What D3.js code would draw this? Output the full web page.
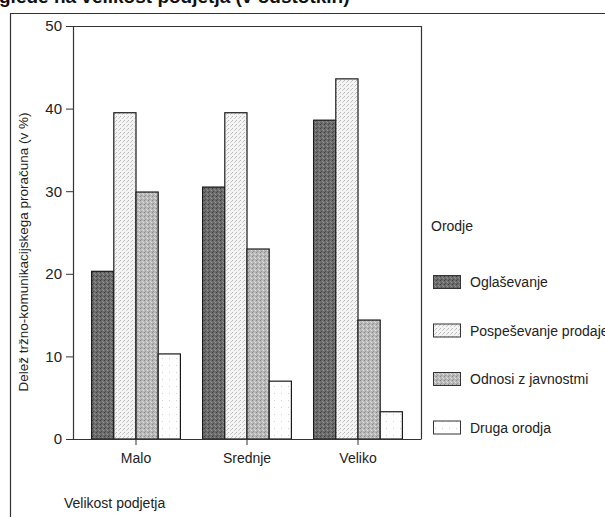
<!DOCTYPE html>
<html><head><meta charset="utf-8">
<script src="https://cdn.jsdelivr.net/npm/d3@7"></script>
<style>body{margin:0;background:#fff;}svg{display:block;font-family:"Liberation Sans",Arial,sans-serif;}</style>
</head><body>
<svg id="c" width="605" height="517"></svg>
<script>
const categories = ["Malo", "Srednje", "Veliko"];
const series = ["Oglaševanje", "Pospeševanje prodaje", "Odnosi z javnostmi", "Druga orodja"];
const oglasevanje = [20.3, 30.5, 38.6];
const pospesevanje = [39.5, 39.5, 43.6];
const odnosi = [29.9, 23.0, 14.4];
const druga = [10.3, 7.0, 3.3];
const yTicks = [0, 10, 20, 30, 40, 50];
const values = [oglasevanje, pospesevanje, odnosi, druga];

const svg = d3.select("#c");
const defs = svg.append("defs");
const pats = [
  {id:"p0", base:"#6c6c6c", dots:[["#404040",0,0],["#888",2,1],["#4c4c4c",1,3],["#959595",3,2]]},
  {id:"p1", base:"#f4f4f4", dots:[["#b8b8b8",0,0],["#d0d0d0",2,2],["#c4c4c4",3,1]]},
  {id:"p2", base:"#b8b8b8", dots:[["#8a8a8a",0,0],["#d8d8d8",2,1],["#999",1,3],["#e0e0e0",3,2]]},
  {id:"p3", base:"#ffffff", dots:[["#d0d0d0",1,1]]}
];
pats.forEach((p,i)=>{
  const sz = i===3 ? 7 : 4;
  const pt = defs.append("pattern").attr("id",p.id).attr("patternUnits","userSpaceOnUse").attr("width",sz).attr("height",sz);
  pt.append("rect").attr("width",sz).attr("height",sz).attr("fill",p.base);
  p.dots.forEach(d=>pt.append("rect").attr("x",d[1]).attr("y",d[2]).attr("width",1).attr("height",1).attr("fill",d[0]));
});

// title (cut at top, as in the scanned reference)
svg.append("text").attr("x",-1).attr("y",3).attr("font-size",19).attr("font-weight","bold").attr("fill","#111")
  .text("glede na velikost podjetja (v odstotkih)");

// outer frame
svg.append("path").attr("d","M10.5,517 V13.5 H605").attr("fill","none").attr("stroke","#333").attr("stroke-width",1.2);

const L=73, R=421, T=26, B=439;
const y = d3.scaleLinear().domain([0,50]).range([B,T]);
const x0 = d3.scaleBand().domain(categories).range([L,R]).paddingInner(0.2).paddingOuter(0.1676);
const x1 = d3.scaleBand().domain(series).range([0,x0.bandwidth()]);

// plot frame (top and right)
svg.append("path").attr("d",`M${L},${T+0.5} H${R+0.5} V${B}`).attr("fill","none").attr("stroke","#333").attr("stroke-width",1.2);

// bars
categories.forEach((c,ci)=>{
  series.forEach((s,si)=>{
    const v = values[si][ci];
    svg.append("rect")
      .attr("x",x0(c)+x1(s)).attr("y",y(v))
      .attr("width",x1.bandwidth()).attr("height",y(0)-y(v))
      .attr("fill",`url(#p${si})`).attr("stroke","#1a1a1a").attr("stroke-width",1.2);
  });
});

// y axis
const ya = svg.append("g").attr("transform",`translate(${L},0)`)
  .call(d3.axisLeft(y).tickValues(yTicks).tickSize(7).tickPadding(4).tickFormat(d3.format("d")));
ya.select(".domain").attr("stroke","#333").attr("stroke-width",1.2);
ya.selectAll(".tick line").attr("stroke","#333");
ya.selectAll("text").attr("font-size",15).attr("fill","#222").attr("font-family","Liberation Sans, Arial, sans-serif");

// x axis
const xa = svg.append("g").attr("transform",`translate(0,${B})`)
  .call(d3.axisBottom(x0).tickSize(6).tickPadding(8).tickSizeOuter(0));
xa.select(".domain").attr("stroke","#333").attr("stroke-width",1.2);
xa.selectAll(".tick line").attr("stroke","#333");
xa.selectAll("text").attr("font-size",14).attr("fill","#222").attr("font-family","Liberation Sans, Arial, sans-serif");

// axis titles
svg.append("text").attr("transform","translate(28,252) rotate(-90)").attr("text-anchor","middle")
  .attr("font-size",13.5).attr("fill","#222").text("Delež tržno-komunikacijskega proračuna (v %)");
svg.append("text").attr("x",64).attr("y",508).attr("font-size",14).attr("fill","#222").text("Velikost podjetja");

// legend
svg.append("text").attr("x",431).attr("y",231).attr("font-size",14).attr("fill","#222").text("Orodje");
series.forEach((s,i)=>{
  const cy = 282 + i*48.5;
  svg.append("rect").attr("x",433.5).attr("y",cy-6.5).attr("width",27).attr("height",13)
    .attr("fill",`url(#p${i})`).attr("stroke","#333").attr("stroke-width",1);
  svg.append("text").attr("x",470).attr("y",cy+5).attr("font-size",14).attr("fill","#222").text(s);
});
</script>
</body></html>
